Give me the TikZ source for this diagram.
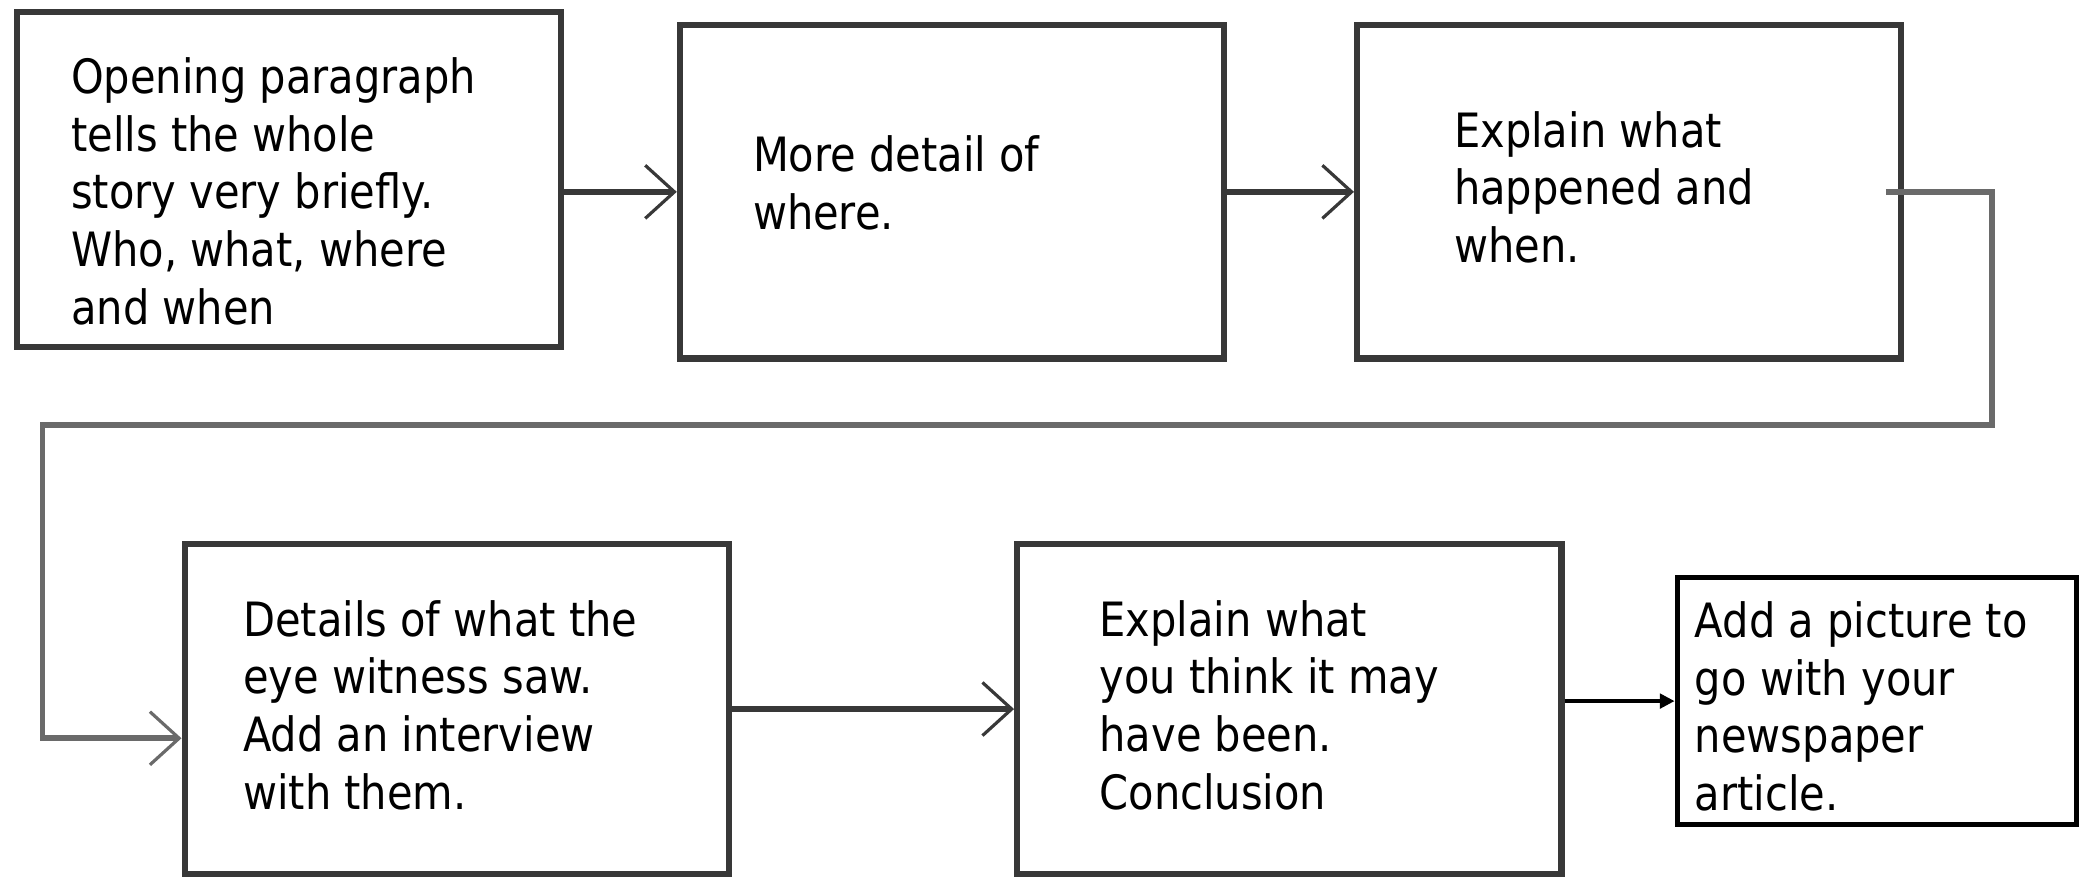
\documentclass[tikz,border=0pt]{standalone}
\usepackage{fontspec}
\setmainfont{DejaVu Sans}[FakeStretch=0.88]
\usetikzlibrary{arrows.meta,positioning}
\definecolor{boxline}{HTML}{383838}
\definecolor{loopline}{HTML}{6A6A6A}
\begin{document}
\begin{tikzpicture}[
  x=0.5pt, y=-0.5pt,
  box/.style={rectangle, draw=boxline, line width=2.3pt, minimum width=205pt, minimum height=125.5pt, inner sep=0pt},
  txt/.style={align=left, inner sep=0pt, font=\fontsize{17.8pt}{21.75pt}\selectfont},
  link/.style={line width=2.2pt, draw=boxline, -{Straight Barb[length=11pt,width=20pt,line width=1.2pt]}},
  thinlink/.style={line width=1.2pt, draw=black, -{Triangle[length=5.5pt,width=5.5pt]}}
]
\useasboundingbox (0,0) rectangle (1568,663);

% top row
\node[box, minimum height=126pt] (b1) at (217.5,135) {};
\node[box, right of=b1, node distance=249.75pt, yshift=-4.75pt] (b2) {};
\node[box, right of=b2, node distance=255pt] (b3) {};

% bottom row
\node[box, minimum height=124pt] (b4) at (344,534) {};
\node[box, minimum height=124pt, right of=b4, node distance=313.5pt] (b5) {};
\node[box, draw=black, line width=1.9pt, minimum width=150.5pt, minimum height=93pt, right of=b5, node distance=221.25pt, yshift=3pt] (b6) {};

\node[txt, right=21.5pt of b1.west, yshift=-4.5pt] (t1) {Opening paragraph\\tells the whole\\story very briefly.\\Who, what, where\\and when};
\node[txt, right=28.5pt of b2.west, yshift=3.5pt] (t2) {More detail of\\where.};
\node[txt, right=37.5pt of b3.west, yshift=1.75pt] (t3) {Explain what\\happened and\\when.};
\node[txt, right=23pt of b4.west, yshift=1.5pt] (t4) {Details of what the\\eye witness saw.\\Add an interview\\with them.};
\node[txt, right=32pt of b5.west, yshift=1.5pt] (t5) {Explain what\\you think it may\\have been.\\Conclusion};
\node[txt, right=7.5pt of b6.west, yshift=-2pt] (t6) {Add a picture to\\go with your\\newspaper\\article.};

\coordinate (turn_r) at (1500,320);
\coordinate (turn_l) at (32,320);

\draw[link] (b1.east |- b2.west) -- (b2.west);
\draw[link] (b2) -- (b3);
\draw[link, draw=loopline] ([xshift=-7pt]b3.east) -| (turn_r) -- (turn_l) |- ([yshift=-11pt]b4.west);
\draw[link] (b4) -- (b5);
\draw[thinlink] (b5.east |- b6.west) -- (b6.west);
\end{tikzpicture}
\end{document}
